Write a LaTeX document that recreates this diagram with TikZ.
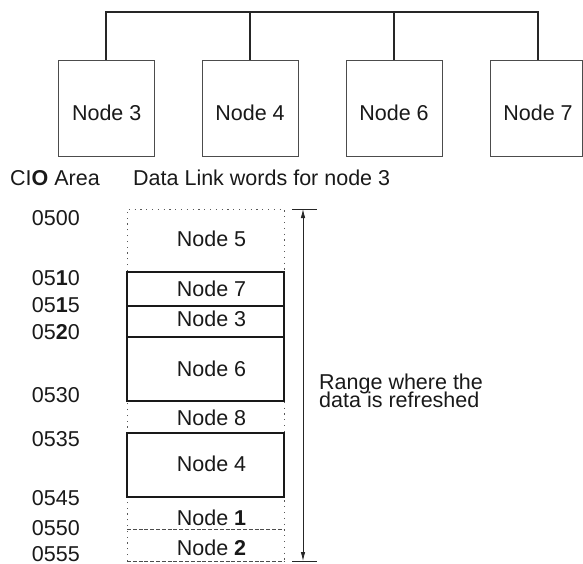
\documentclass[tikz,border=0pt]{standalone}
\usepackage{fontspec}
\setmainfont{Liberation Sans}
\usetikzlibrary{arrows.meta}

\tikzset{
  lbl/.style={font=\fontsize{21.5}{17.3}\selectfont, inner sep=0pt, text=black!90},
  station/.style={draw=black!70, line width=1pt, minimum width=96pt, minimum height=96pt, inner sep=0pt},
  bus/.style={line width=2pt, black!85},
  wordbox/.style={line width=2.2pt, black!90},
  freeword/.style={line width=0.9pt, black!65, dash pattern=on 1.2pt off 4.6pt},
  dashword/.style={line width=0.9pt, black!70, dash pattern=on 4pt off 1.8pt},
  rangearrow/.style={line width=0.8pt, black!85, {Latex[length=9pt,width=4.5pt]}-{Latex[length=9pt,width=4.5pt]}}
}

\begin{document}
\begin{tikzpicture}[x=1pt, y=-1pt]
\useasboundingbox (0,0) rectangle (583,563);

    % Stations on the network
    \node[station] (st3) at (106,108) {};
    \node[station] (st4) at (250,108) {};
    \node[station] (st6) at (394,108) {};
    \node[station, minimum width=92pt] (st7) at (536,108) {};
    \node[lbl, anchor=base] (st3txt) at (106.7,120) {Node 3};
    \node[lbl, anchor=base] (st4txt) at (250,120) {Node 4};
    \node[lbl, anchor=base] (st6txt) at (394,120) {Node 6};
    \node[lbl, anchor=base] (st7txt) at (538,120) {Node 7};

    % Bus line
    \coordinate (busL) at (106,12);
    \coordinate (busR) at (538,12);
    \draw[bus] (st3.north) -- (busL) -- (busR) -- (busR |- st7.north);
    \draw[bus] (st4.north) -- (st4.north |- busL);
    \draw[bus] (st6.north) -- (st6.north |- busL);

    % Headings
    \node[lbl, anchor=base east] (cio) at (100,185) {CI\textbf{O} Area};
    \node[lbl, anchor=base west] (dlw) at (133,185) {Data Link words for node 3};

    % Addresses
    \foreach \y/\t [count=\i] in {225.7/0500, 285/05\textbf{1}0, 312.7/05\textbf{1}5,
        339.3/05\textbf{2}0, 402.3/0530, 446/0535, 505/0545, 535/0550, 561.7/0555}
      \node[lbl, anchor=base east] (addr\i) at (80,\y) {\t};

    % Words of nodes not in the network
    \draw[freeword] (127,561) -- (127,209) -- (284,209) -- (284,561);
    \draw[dashword] (127,529) -- (284,529);
    \draw[dashword] (127,561) -- (284,561);

    % Words of the nodes in the network
    \draw[wordbox] (127,272) rectangle (284,337);
    \draw[wordbox] (127,306) -- (284,306);
    \draw[wordbox] (127,337) rectangle (284,401);
    \draw[wordbox] (127,433) rectangle (284,497);

    % Word labels
    \node[lbl, anchor=base] (w5) at (211.5,246) {Node 5};
    \node[lbl, anchor=base] (w7) at (211.5,296) {Node 7};
    \node[lbl, anchor=base] (w3) at (211.5,326.7) {Node 3};
    \node[lbl, anchor=base] (w6) at (211.5,376.7) {Node 6};
    \node[lbl, anchor=base] (w8) at (211.5,425) {Node 8};
    \node[lbl, anchor=base] (w4) at (211.5,471) {Node 4};
    \node[lbl, anchor=base] (w1) at (211.5,525.7) {Node \textbf{1}};
    \node[lbl, anchor=base] (w2) at (211.5,555) {Node \textbf{2}};

    % Refresh range
    \coordinate (rtop) at (303,209);
    \coordinate (rbot) at (303,561);
    \draw[rangearrow] (rtop) -- (rbot);
    \draw[line width=0.8pt, black!85] ([xshift=-11pt]rtop) -- ([xshift=14pt]rtop);
    \draw[line width=0.8pt, black!85] ([xshift=-11pt]rbot) -- ([xshift=14pt]rbot);
    \node[lbl, anchor=base west] (rng1) at (319,389) {Range where the};
    \node[lbl, anchor=base west] (rng2) at (319,407.5) {data is refreshed};
\end{tikzpicture}
\end{document}
